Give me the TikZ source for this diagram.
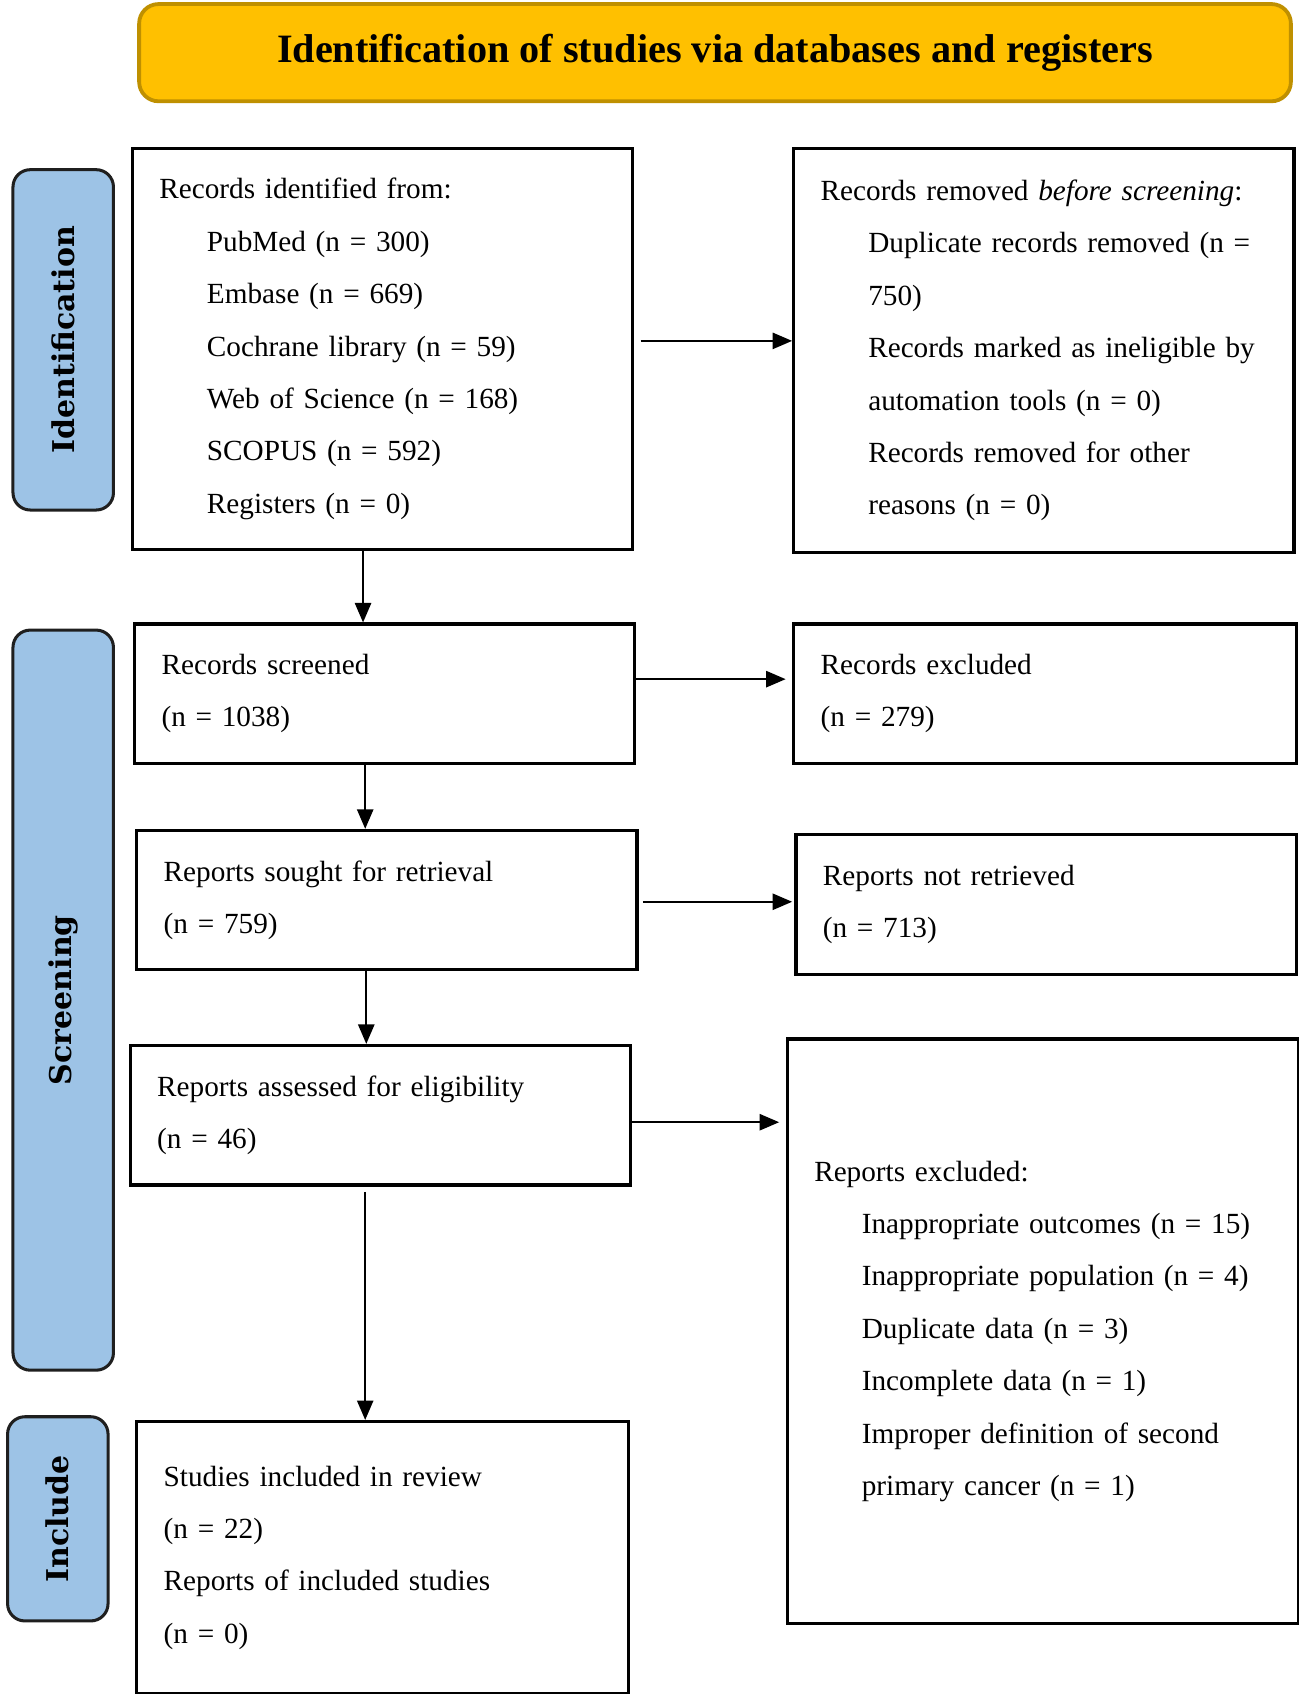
\documentclass[tikz,border=0pt]{standalone}
\usepackage{fontspec}
\setmainfont{Liberation Serif}
\newfontfamily\lblfont{DejaVu Serif}
\usetikzlibrary{arrows.meta,calc}
\definecolor{titlefill}{HTML}{FFC000}
\definecolor{titledraw}{HTML}{BF9000}
\definecolor{sidefill}{HTML}{9DC3E6}
\definecolor{sidedraw}{HTML}{1F1F1F}
\newcommand\ind{\hspace*{0.88cm}}
\tikzset{
  box/.style={draw=black, line width=1.7pt, fill=white, anchor=north west, align=left,
    inner xsep=0.5cm, inner ysep=0pt, font=\fontsize{15.4}{27.6}\selectfont},
  sidelbl/.style={draw=sidedraw, fill=sidefill, line width=1.6pt, rounded corners=0.32cm,
    rotate=90, font=\lblfont\bfseries\fontsize{15.8}{18}\selectfont, inner sep=0pt},
  titlebox/.style={draw=titledraw, fill=titlefill, line width=2pt, rounded corners=0.36cm,
    anchor=north west, font=\bfseries\fontsize{21.2}{25}\selectfont, inner sep=0pt},
  arr/.style={line width=1pt, -{Triangle[length=0.36cm,width=0.3cm]}},
}
\begin{document}
\begin{tikzpicture}[x=0.02cm,y=-0.02cm]
\useasboundingbox (0,0) rectangle (1202,1567.6);
% title
\node[titlebox, minimum width=21.32cm, minimum height=1.8cm] (T) at (127,2)
  {Identification of studies via databases and registers};
% side labels
\node[sidelbl, minimum width=6.3cm, minimum height=1.86cm] (SI) at (58.5,314.5) {Identification};
\node[sidelbl, minimum width=13.7cm, minimum height=1.86cm] (SS) at (58.5,925.5) {Screening};
\node[sidelbl, minimum width=3.78cm, minimum height=1.86cm] (SN) at (53.5,1405.5) {Include};
% left boxes
\node[box, text width=8.26cm, minimum height=7.42cm] (B1) at (121,136)
  {Records identified from:\\
   \ind PubMed (n = 300)\\
   \ind Embase (n = 669)\\
   \ind Cochrane library (n = 59)\\
   \ind Web of Science (n = 168)\\
   \ind SCOPUS (n = 592)\\
   \ind Registers (n = 0)};
\node[box, text width=8.26cm, minimum height=2.58cm] (B2) at (123,576)
  {Records screened\\ (n = 1038)};
\node[box, text width=8.26cm, minimum height=2.58cm] (B3) at (125,767)
  {Reports sought for retrieval\\ (n = 759)};
\node[box, text width=8.26cm, minimum height=2.58cm] (B4) at (119,966)
  {Reports assessed for eligibility\\ (n = 46)};
\node[box, text width=8.1cm, minimum height=5.04cm] (B5) at (125,1314)
  {Studies included in review\\ (n = 22)\\ Reports of included studies\\ (n = 0)};
% right boxes
\node[box, text width=8.26cm, minimum height=7.48cm] (R1) at (733,136)
  {Records removed \textit{before screening}:\\
   \ind Duplicate records removed (n =\\
   \ind 750)\\
   \ind Records marked as ineligible by\\
   \ind automation tools (n = 0)\\
   \ind Records removed for other\\
   \ind reasons (n = 0)};
\node[box, text width=8.3cm, minimum height=2.58cm] (R2) at (733,576)
  {Records excluded\\ (n = 279)};
\node[box, text width=8.26cm, minimum height=2.58cm] (R3) at (735,771)
  {Reports not retrieved\\ (n = 713)};
\node[box, text width=8.46cm, minimum height=10.82cm] (R4) at (727,960)
  {Reports excluded:\\
   \ind Inappropriate outcomes (n = 15)\\
   \ind Inappropriate population (n = 4)\\
   \ind Duplicate data (n = 3)\\
   \ind Incomplete data (n = 1)\\
   \ind Improper definition of second\\
   \ind primary cancer (n = 1)};
% horizontal arrows
\draw[arr, shorten >=0.12cm] ([xshift=0.12cm,yshift=0.15cm]B1.east) -- ([xshift=0.12cm,yshift=0.15cm]B1.east -| R1.west);
\draw[arr, shorten >=0.12cm] ([yshift=0.27cm]B2.east) -- ([yshift=0.27cm]B2.east -| R2.west);
\draw[arr, shorten >=0.12cm] ([xshift=0.08cm,yshift=-0.03cm]B3.east) -- ([xshift=0.08cm,yshift=-0.03cm]B3.east -| R3.west);
\draw[arr, shorten >=0.12cm] ([yshift=-0.13cm]B4.east) -- ([yshift=-0.13cm]B4.east -| R4.west);
% vertical arrows
\draw[arr] ([xshift=-0.36cm]B1.south) -- ([xshift=-0.36cm]B1.south |- B2.north);
\draw[arr] ([xshift=-0.36cm]B2.south) -- ([xshift=-0.36cm]B2.south |- B3.north);
\draw[arr] ([xshift=-0.38cm]B3.south) -- ([xshift=-0.38cm]B3.south |- B4.north);
\draw[arr] ([xshift=-0.28cm,yshift=-0.1cm]B4.south) -- ([xshift=-0.28cm]B4.south |- B5.north);
\end{tikzpicture}
\end{document}
